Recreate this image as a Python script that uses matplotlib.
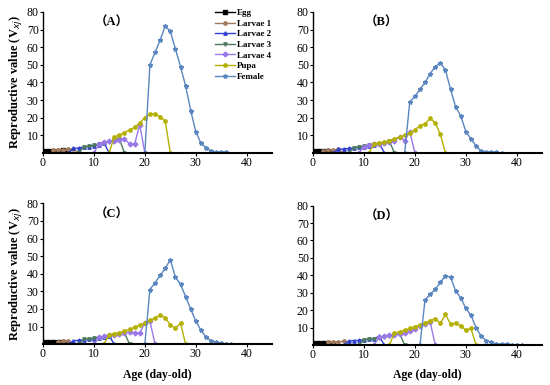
import matplotlib
matplotlib.use("Agg")
import matplotlib.pyplot as plt

# stage names and styles
stages = ["Egg", "Larvae 1", "Larvae 2", "Larvae 3", "Larvae 4", "Pupa", "Female"]
colors = ["#000000", "#a07a5c", "#2f3fcf", "#4d7a5e", "#9a78e8", "#b4b000", "#5a86c0"]
markers = ["s", "o", "^", "v", "D", "o", "*"]

# (start day, values) for each stage, panel A
egg_a = (0, [1.0, 1.1, 1.2, 1.3, 1.4, 0])
l1_a = (2, [1.4, 1.6, 1.8, 2.0, 2.2, 0])
l2_a = (5, [0, 2.5, 2.8, 3.2, 3.6, 4.0, 4.5, 5.5, 0])
l3_a = (7, [0, 3.4, 3.8, 4.2, 4.8, 5.5, 6.3, 7.2, 8.0, 0])
l4_a = (10, [0, 5, 6, 6.5, 7, 7.5, 8, 5, 5, 16, 0])
pupa_a = (13, [0, 9, 10, 11.5, 13, 14.5, 17, 20, 22, 22, 20.5, 18, 0])
fem_a = (20, [0, 50, 57, 64, 72, 69, 59, 49, 38, 24, 12, 5.5, 3, 1, 0.5, 0.3, 0.2])

# panel B
egg_b = (0, [1.0, 1.1, 1.2, 1.3, 0])
l1_b = (2, [1.3, 1.5, 1.7, 1.9, 0])
l2_b = (4, [0, 2.0, 2.2, 2.5, 2.8, 3.1, 3.5, 4.0, 4.5, 5.5, 0])
l3_b = (7, [0, 3.0, 3.4, 3.8, 4.3, 4.8, 5.3, 5.8, 6.5, 0])
l4_b = (9, [0, 3.5, 4.2, 4.8, 5.3, 5.8, 6.3, 7.0, 9.0, 7.0, 12, 0])
pupa_b = (11, [0, 5, 5.5, 6, 7, 8, 9, 10, 11.5, 13, 15.5, 16.5, 19.5, 17, 10.5, 0])
fem_b = (18, [0, 29, 32, 36, 40, 45, 49, 51, 47, 36, 26, 21, 12, 8, 4, 1, 0.5, 0.3, 0.2, 0.1])

# panel C
egg_c = (0, [1.0, 1.1, 1.2, 1.3, 1.4, 0])
l1_c = (3, [1.4, 1.6, 1.8, 0])
l2_c = (5, [0, 2.0, 2.2, 2.4, 2.7, 3.0, 3.5, 4.0, 4.8, 0])
l3_c = (7, [0, 2.7, 3.0, 3.3, 3.7, 4.2, 4.7, 5.2, 5.8, 6.5, 0])
l4_c = (10, [0, 3.8, 4.5, 5, 5.5, 6, 6.5, 7, 6.5, 6.5, 12, 13, 0])
pupa_c = (12, [0, 5.5, 6, 6.5, 7.5, 8.5, 9.5, 11, 12, 13.5, 15, 16.5, 15, 11, 9, 12, 0])
fem_c = (20, [0, 31, 35, 39, 43, 48, 38, 34, 27, 20, 13, 8, 4, 2, 1, 0.5, 0.3, 0.2])

# panel D
egg_d = (0, [1.0, 1.1, 1.2, 1.3, 0])
l1_d = (3, [1.5, 1.7, 1.9, 2.0, 0])
l2_d = (6, [0, 2.3, 2.5, 2.7, 3.0, 3.3, 3.7, 5.0, 0])
l3_d = (9, [0, 3.0, 3.3, 3.6, 4.0, 4.5, 5.0, 5.5, 6.5, 0])
l4_d = (12, [0, 4.5, 5, 5.5, 6, 6.5, 7, 8, 9, 11, 12, 13, 0])
pupa_d = (15, [0, 7, 7.5, 8.5, 9.5, 10.5, 11.5, 12.5, 14, 15, 12.5, 17.5, 12, 12.5, 11, 8.5, 9.5, 0])
fem_d = (21, [0, 26, 29, 32, 36, 39.5, 39, 31, 27, 21, 17, 10, 5, 2.5, 1.5, 0.7, 0.5, 0.3, 0.2, 0.2, 0.1])

panels = [
    ("A", [egg_a, l1_a, l2_a, l3_a, l4_a, pupa_a, fem_a]),
    ("B", [egg_b, l1_b, l2_b, l3_b, l4_b, pupa_b, fem_b]),
    ("C", [egg_c, l1_c, l2_c, l3_c, l4_c, pupa_c, fem_c]),
    ("D", [egg_d, l1_d, l2_d, l3_d, l4_d, pupa_d, fem_d]),
]

serif = ["Liberation Serif", "DejaVu Serif"]
plt.rcParams["font.family"] = serif

fig = plt.figure(figsize=(5.5, 3.85), dpi=100)
boxes = [
    [0.078, 0.603, 0.417, 0.366],
    [0.569, 0.603, 0.417, 0.366],
    [0.078, 0.106, 0.417, 0.366],
    [0.569, 0.104, 0.417, 0.362],
]

for (name, series), box in zip(panels, boxes):
    ax = fig.add_axes(box)
    for i, (start, vals) in enumerate(series):
        days = list(range(start, start + len(vals)))
        ms = 3.2 if markers[i] == "*" else 2.4
        ax.plot(days, vals, color=colors[i], marker=markers[i], markersize=ms,
                linewidth=1.0, label=stages[i])
    ax.set_xlim(0, 45)
    ax.set_ylim(0, 80)
    ax.set_xticks([0, 10, 20, 30, 40])
    ax.set_yticks([10, 20, 30, 40, 50, 60, 70, 80])
    ax.tick_params(labelsize=8.5, length=2, width=0.8, pad=1)
    ax.spines["top"].set_visible(False)
    ax.spines["right"].set_visible(False)
    ax.spines["left"].set_linewidth(1.0)
    ax.spines["bottom"].set_linewidth(1.5)
    ax.text(0.3, 0.92, f"（{name}）", transform=ax.transAxes, ha="center", va="center",
            fontsize=9, fontweight="bold", family=["Liberation Serif", "Noto Sans CJK SC"])
    if name in ("A", "C"):
        ax.set_ylabel(r"Reproductive value (V$_{xj}$)", fontsize=9, fontweight="bold", labelpad=2)
    if name in ("C", "D"):
        ax.set_xlabel("Age (day-old)", fontsize=8.5, fontweight="bold", labelpad=6)
    if name == "A":
        ax.legend(loc="upper right", bbox_to_anchor=(1.02, 1.06), frameon=False,
                  prop={"size": 6.5, "weight": "bold"}, handlelength=2.2,
                  handletextpad=0.3, labelspacing=0.25, borderaxespad=0.2)

plt.savefig("out.png", dpi=100)
